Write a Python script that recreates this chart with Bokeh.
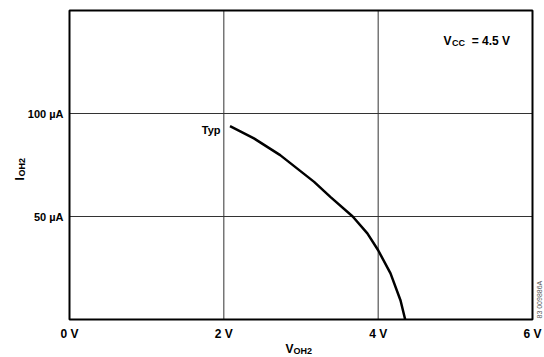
from bokeh.plotting import figure
from bokeh.models import Label
from bokeh.core.properties import value
from bokeh.embed import file_html
from bokeh.resources import INLINE
import math

# Data
v_oh2 = [2.08, 2.39, 2.73, 3.17, 3.38, 3.67, 3.86, 4.0, 4.16, 4.29, 4.35]
i_oh2 = [93.9, 87.9, 79.8, 66.8, 59.5, 50.0, 41.8, 33.6, 22.4, 9.2, 0.0]
x_ticks = [0, 2, 4, 6]
x_tick_labels = ["0 V", "2 V", "4 V", "6 V"]
y_ticks = [50, 100]
y_tick_labels = ["50 \u00b5A", "100 \u00b5A"]
y_min, y_max = 0, 150
x_grid = [2, 4]
y_grid = [50, 100]

FONT = "Liberation Sans"
W, H = 544, 357
# pixel margins of the plotting box inside the canvas
ML, MR, MT, MB = 69, 12, 10, 38

x0, x1 = x_ticks[0], x_ticks[-1]
kx = (x1 - x0) / (W - ML - MR)
ky = (y_max - y_min) / (H - MT - MB)

p = figure(width=W, height=H,
           x_range=(x0 - ML * kx, x1 + MR * kx),
           y_range=(y_min - MB * ky, y_max + MT * ky),
           output_backend="svg", toolbar_location=None,
           x_axis_location=None, y_axis_location=None,
           min_border=0)
p.background_fill_color = "white"
p.border_fill_color = "white"
p.outline_line_color = None
# drop any default grids
p.center = [r for r in p.center if r.__class__.__name__ != "Grid"]

# grid lines limited to the box
p.segment(x0=x_grid, y0=[y_min] * len(x_grid), x1=x_grid, y1=[y_max] * len(x_grid),
          line_color="#333333", line_width=1)
p.segment(x0=[x0] * len(y_grid), y0=y_grid, x1=[x1] * len(y_grid), y1=y_grid,
          line_color="#333333", line_width=1)

# box frame
p.quad(left=[x0], right=[x1], bottom=[y_min], top=[y_max],
       fill_color=None, line_color="black", line_width=2)

# curve
p.line(v_oh2, i_oh2, line_color="black", line_width=2.5)

# tick labels
p.text(x=x_ticks, y=[y_min] * len(x_ticks), text=x_tick_labels,
       text_font=value(FONT), text_font_style="bold", text_font_size="12px",
       text_color="black", text_align="center", text_baseline="top", y_offset=7)
p.text(x=[x0] * len(y_ticks), y=y_ticks, text=y_tick_labels,
       text_font=value(FONT), text_font_style="bold", text_font_size="11px",
       text_color="black", text_align="right", text_baseline="middle", x_offset=-6)

def lab(x, y, text, size="12px", align="left", angle=0.0, color="black", style="bold"):
    p.add_layout(Label(x=x, y=y, text=text, text_font=FONT, text_font_style=style,
                       text_font_size=size, text_color=color, text_align=align,
                       text_baseline="alphabetic", angle=angle))

def px(xp):
    return x0 + (xp - ML) * kx

def py(yp):
    return y_min + (H - MB - yp) * ky

# Typ label
lab(px(220), py(129.5), "Typ", "11px", "right")
# Vcc label
lab(px(443), py(40), "V", "12px")
lab(px(451.5), py(42.5), "CC", "9px")
lab(px(509.5), py(40), "= 4.5 V", "12px", "right")
# x axis title
lab(px(285), py(348), "V", "12px")
lab(px(293), py(350), "OH2", "9px")
# y axis title (rotated)
lab(px(19), py(180), "I", "12px", angle=math.pi / 2)
lab(px(21), py(176), "OH2", "9px", angle=math.pi / 2)
# figure id along right edge
lab(px(539), py(318), "83 009886A", "7px", angle=math.pi / 2, color="#555555", style="normal")

open("out.html", "w").write(file_html(p, INLINE))
